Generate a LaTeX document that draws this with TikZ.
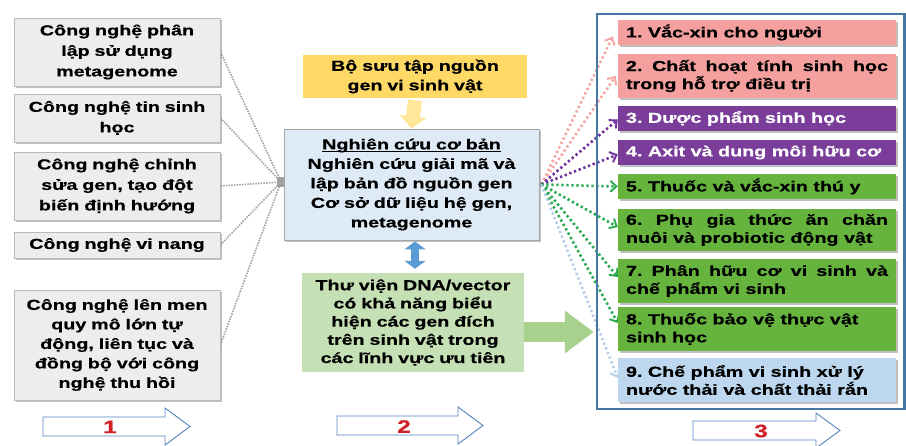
\documentclass[tikz,border=0pt]{standalone}
\usepackage{fontspec}
\setmainfont{Liberation Sans}[FakeStretch=1.36,BoldFeatures={FakeBold=0.6}]
\usetikzlibrary{arrows.meta,shadows,backgrounds,calc}
\hyphenpenalty=10000
\exhyphenpenalty=10000
\frenchspacing
\newcommand\myul[1]{\setbox0\hbox{#1}\rlap{\raisebox{-3pt}{\rule{\wd0}{1.3pt}}}\box0}
\definecolor{lfill}{RGB}{237,237,237}
\definecolor{lborder}{RGB}{185,185,185}
\definecolor{lline}{RGB}{160,160,160}
\definecolor{yfill}{RGB}{255,217,102}
\definecolor{yarr}{RGB}{255,230,153}
\definecolor{bfill}{RGB}{222,235,247}
\definecolor{bborder}{RGB}{165,165,165}
\definecolor{gfill}{RGB}{197,224,180}
\definecolor{garr}{RGB}{169,209,142}
\definecolor{darr}{RGB}{91,155,213}
\definecolor{framec}{RGB}{70,118,164}
\definecolor{pinkc}{RGB}{243,160,158}
\definecolor{purpc}{RGB}{122,62,154}
\definecolor{grnc}{RGB}{102,180,62}
\definecolor{lbluec}{RGB}{189,215,238}
\definecolor{pinkl}{RGB}{244,166,164}
\definecolor{purpl}{RGB}{112,48,160}
\definecolor{grnl}{RGB}{40,170,80}
\definecolor{bluel}{RGB}{180,205,235}
\definecolor{outarr}{RGB}{84,130,190}
\definecolor{numred}{RGB}{208,32,40}
\begin{document}
\begin{tikzpicture}[x=1pt,y=-1pt,
  base/.style={font=\bfseries\fontsize{14.5}{19.5}\selectfont, inner ysep=0pt, align=center},
  shad/.style={drop shadow={shadow xshift=1.5pt,shadow yshift=-2.5pt,opacity=0.45,fill=black!55}},
  lbox/.style={base, shad, fill=lfill, draw=lborder, line width=0.8pt, font=\bfseries\fontsize{14.5}{20.5}\selectfont,
    text width=196pt, inner xsep=5pt, minimum width=206pt},
  ybox/.style={base, fill=yfill, text width=214pt, inner xsep=5pt, minimum width=224pt, minimum height=43pt},
  bbox/.style={base, shad, fill=bfill, draw=bborder, line width=0.8pt, text width=245pt, inner xsep=5pt,
    minimum width=255pt, minimum height=111pt},
  gbox/.style={base, fill=gfill, text width=212pt, inner xsep=5pt, minimum width=222pt, minimum height=99pt,
    font=\bfseries\fontsize{14.5}{18.2}\selectfont},
  rbox/.style={base, shad, align=justify, font=\bfseries\fontsize{14.5}{18}\selectfont,
    text width=262pt, inner xsep=8pt, minimum width=278pt},
  framebox/.style={draw=framec, line width=2.5pt, minimum width=307.5pt, minimum height=395pt, inner sep=0pt},
  hubbox/.style={fill=lline, minimum width=8pt, minimum height=10pt, inner sep=0pt},
  lconn/.style={draw=lline, line width=1.6pt, dash pattern=on 1.5pt off 1.2pt},
  rconn/.style={line width=2.6pt, dash pattern=on 2.3pt off 2.7pt,
    -{Straight Barb[length=6pt,width=11pt,line width=1.9pt]}},
  outarrow/.style={draw=outarr, fill=white, line width=0.9pt, line join=miter},
  numlbl/.style={font=\bfseries\fontsize{18}{18}\selectfont, text=numred, inner sep=0pt}
]
\useasboundingbox (0,0) rectangle (906,446);

% left column
\node[lbox, minimum height=68pt] (l1) at (117,52) {Công nghệ phân\\lập sử dụng\\metagenome};
\node[lbox, minimum height=48pt] (l2) at (117,118) {Công nghệ tin sinh\\học};
\node[lbox, minimum height=68pt] (l3) at (117,186) {Công nghệ chỉnh\\sửa gen, tạo đột\\biến định hướng};
\node[lbox, minimum height=26pt] (l4) at (117,245) {Công nghệ vi nang};
\node[lbox, minimum height=110pt, font=\bfseries\fontsize{14.5}{19.5}\selectfont] (l5) at (117,345) {Công nghệ lên men\\quy mô lớn tự\\động, liên tục và\\đồng bộ với công\\nghệ thu hồi};
\node[hubbox] (hub) at (281,182) {};

% middle column
\node[ybox] (col) at (415,76.5) {Bộ sưu tập nguồn\\gen vi sinh vật};
\node[bbox] (basic) at (411.5,184.5) {\myul{Nghiên cứu cơ bản}\\Nghiên cứu giải mã và\\lập bản đồ nguồn gen\\Cơ sở dữ liệu hệ gen,\\metagenome};
\node[gbox] (lib) at (413,322.5) {Thư viện DNA/vector\\có khả năng biểu\\hiện các gen đích\\trên sinh vật trong\\các lĩnh vực ưu tiên};
\coordinate (src) at ([xshift=2pt]basic.east);

% right column
\node[framebox] (frame) at (750.75,211.5) {};
\node[rbox, fill=pinkc, minimum height=25pt] (r1) at (757,32.5) {1. Vắc-xin cho người};
\node[rbox, fill=pinkc, minimum height=44pt] (r2) at (757,76) {2. Chất hoạt tính sinh học\linebreak trong hỗ trợ điều trị};
\node[rbox, fill=purpc, text=white, minimum height=25pt] (r3) at (757,118.5) {3. Dược phẩm sinh học};
\node[rbox, fill=purpc, text=white, minimum height=25pt] (r4) at (757,152.5) {4. Axit và dung môi hữu cơ};
\node[rbox, fill=grnc, minimum height=25pt] (r5) at (757,186.5) {5. Thuốc và vắc-xin thú y};
\node[rbox, fill=grnc, minimum height=42pt] (r6) at (757,230) {6. Phụ gia thức ăn chăn\linebreak nuôi và probiotic động vật};
\node[rbox, fill=grnc, minimum height=44pt] (r7) at (757,281) {7. Phân hữu cơ vi sinh và\linebreak chế phẩm vi sinh};
\node[rbox, fill=grnc, minimum height=44pt] (r8) at (757,329) {8. Thuốc bảo vệ thực vật\\sinh học};
\node[rbox, fill=lbluec, minimum height=44pt] (r9) at (757,380) {9. Chế phẩm vi sinh xử lý\\nước thải và chất thải rắn};

% connectors
\begin{scope}[on background layer]
\draw[lconn] (l1.east) -- (hub.center);
\draw[lconn] (l2.east) -- (hub.center);
\draw[lconn] (l3.east) -- (hub.center);
\draw[lconn] (l4.east) -- (hub.center);
\draw[lconn] (l5.east) -- (hub.center);
\draw[rconn, draw=pinkl] (src) -- ([xshift=-5pt,yshift=-4pt]r1.west);
\draw[rconn, draw=pinkl] (src) -- ([xshift=-2pt]r2.west);
\draw[rconn, draw=purpl] (src) -- ([yshift=-1pt]r3.west);
\draw[rconn, draw=purpl] (src) -- ([yshift=-2pt]r4.west);
\draw[rconn, draw=grnl] (src) -- (r5.west);
\draw[rconn, draw=grnl] (src) -- ([yshift=3pt]r6.west);
\draw[rconn, draw=grnl] (src) -- ([yshift=4pt]r7.west);
\draw[rconn, draw=grnl] (src) -- ([yshift=6pt]r8.west);
\draw[rconn, draw=bluel] (src) -- ([yshift=2pt]r9.west);
\end{scope}

% block arrows
\draw[draw=yarr, line width=14pt, -{Triangle[length=12pt,width=26pt]}] ([yshift=-2pt]col.south) -- (basic.north);
\draw[draw=darr, line width=8pt, {Triangle[length=8pt,width=21pt]}-{Triangle[length=8pt,width=21pt]},
  shorten <=1pt, shorten >=4pt] (basic.south -| col.south) -- (lib.north -| col.south);
\draw[draw=garr, line width=20pt, -{Triangle[length=29pt,width=41pt]}, shorten >=2pt]
  (lib.east |- 0,332) -- (frame.west |- 0,332);

% step arrows
\draw[outarrow] (43,417) -- (165,417) -- (165,408) -- (190,426.5) -- (165,445) -- (165,436) -- (43,436) -- cycle;
\node[numlbl] (n1) at (110,427) {1};
\draw[outarrow] (337,416) -- (458,416) -- (458,407) -- (483,425.5) -- (458,444) -- (458,435) -- (337,435) -- cycle;
\node[numlbl] (n2) at (404,426.5) {2};
\draw[outarrow] (693,421) -- (816,421) -- (816,413) -- (840,430.5) -- (816,448) -- (816,440) -- (693,440) -- cycle;
\node[numlbl] (n3) at (761,431) {3};
\end{tikzpicture}
\end{document}
